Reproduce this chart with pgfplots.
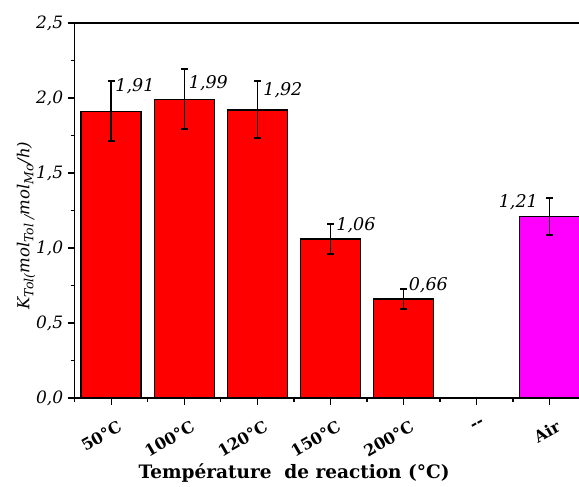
\documentclass[border=0pt]{standalone}
\usepackage{fontspec}
\setmainfont{DejaVu Serif}
\usepackage{pgfplots}
\pgfplotsset{compat=1.18}
\usepackage{pgfplotstable}
\definecolor{mag}{RGB}{255,0,255}
\newcommand\sub[1]{\raisebox{-0.45ex}{\fontsize{12.5}{13}\selectfont #1}}

\pgfplotstableread{
x y err
1 1.91 0.20
2 1.99 0.20
3 1.92 0.19
4 1.06 0.10
5 0.66 0.067
}\redbars
\pgfplotstableread{
x y err
7 1.21 0.125
}\airbar
\pgfplotstableread{
x y label
1.055 2.077 {1,91}
2.06 2.097 {1,99}
3.08 2.053 {1,92}
4.08 1.153 {1,06}
5.07 0.753 {0,66}
}\labelsW
\pgfplotstableread{
x y label
6.84 1.303 {1,21}
}\labelsE

\begin{document}
\begin{tikzpicture}
\begin{axis}[
  scale only axis, width=511.5pt, height=375pt,
  at={(0,0)}, anchor=south west,
  xmin=0.5, xmax=7.5, ymin=0, ymax=2.5,
  xtick={1,2,3,4,5,6,7},
  xticklabels={50°C,100°C,120°C,150°C,200°C,-{}-,Air},
  minor xtick={0.5,1.5,2.5,3.5,4.5,5.5,6.5,7.5},
  ytick={0,0.5,1,1.5,2,2.5},
  minor ytick={0.25,0.75,1.25,1.75,2.25},
  tick align=outside, xtick pos=bottom, ytick pos=left,
  major tick length=7pt, minor tick length=4pt,
  axis line style={line width=1.5pt},
  every tick/.style={black, line width=1.3pt},
  /pgf/number format/.cd, use comma, fixed, fixed zerofill, precision=1, assume math mode=true,
  /pgfplots/.cd,
  yticklabel style={font=\itshape\fontsize{17}{18}\selectfont, xshift=-1pt},
  xticklabel style={font=\bfseries\fontsize{16}{17}\selectfont, rotate=30, anchor=north east, xshift=1pt, yshift=-12pt},
  xlabel={Température\ \ de reaction (°C)},
  xlabel style={font=\bfseries\fontsize{18.5}{20}\selectfont, at={(axis description cs:0.429,-0.199)}, anchor=center},
  ylabel={\itshape K\sub{Tol(}mol\sub{Tol /}mol\sub{Mo}/h)},
  ylabel style={font=\fontsize{16.5}{18}\selectfont, at={(axis description cs:-0.095,0.46)}, anchor=center},
  clip=false,
]
\addplot[ybar, bar width=60pt, fill=red, draw=black, line width=1.5pt,
  error bars/.cd, y dir=both, y explicit, error mark=|,
  error bar style={line width=1.6pt, black},
  error mark options={mark size=3.5pt, line width=2pt, black}]
  table[x=x, y=y, y error=err]{\redbars};
\addplot[ybar, bar width=60pt, fill=mag, draw=black, line width=1.5pt,
  error bars/.cd, y dir=both, y explicit, error mark=|,
  error bar style={line width=1.6pt, black},
  error mark options={mark size=3.5pt, line width=2pt, black}]
  table[x=x, y=y, y error=err]{\airbar};
\addplot[only marks, mark=none, nodes near coords, point meta=explicit symbolic,
  every node near coord/.append style={anchor=west, inner sep=0pt, font=\itshape\fontsize{17.5}{18}\selectfont}]
  table[x=x, y=y, meta=label]{\labelsW};
\addplot[only marks, mark=none, nodes near coords, point meta=explicit symbolic,
  every node near coord/.append style={anchor=east, inner sep=0pt, font=\itshape\fontsize{17.5}{18}\selectfont}]
  table[x=x, y=y, meta=label]{\labelsE};
\end{axis}
\pgfresetboundingbox
\useasboundingbox (-74.7pt,-89pt) rectangle (504.3pt,398pt);
\end{tikzpicture}
\end{document}
